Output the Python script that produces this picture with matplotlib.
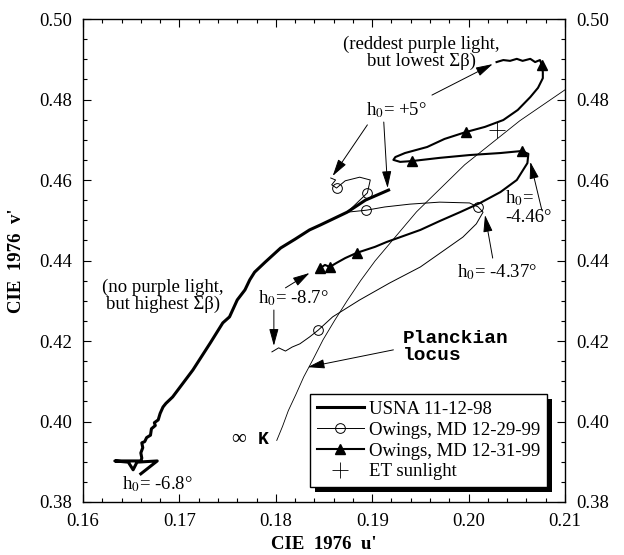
import matplotlib.pyplot as plt
from matplotlib.patches import Rectangle
from matplotlib.ticker import MultipleLocator, FormatStrFormatter

plt.rcParams['font.family'] = ['Liberation Serif', 'DejaVu Serif']
plt.rcParams['mathtext.fontset'] = 'stix'

# USNA 11-12-98 twilight track (u', v')
usna_u = [0.1917, 0.1893, 0.1874, 0.1846, 0.1835, 0.1820, 0.1805, 0.1789, 0.1778,
          0.1773, 0.1768, 0.1760, 0.1752, 0.1745, 0.1732, 0.1714, 0.1693, 0.1686,
          0.1683, 0.1680, 0.1678, 0.1674, 0.1675, 0.1671, 0.1670, 0.1666, 0.1664,
          0.1661, 0.1662, 0.1660, 0.1661, 0.1660, 0.1633, 0.1647, 0.1652, 0.1656,
          0.1677, 0.1660]
usna_v = [0.4575, 0.4550, 0.4520, 0.4488, 0.4476, 0.4453, 0.4431, 0.4396, 0.4371,
          0.4352, 0.4327, 0.4302, 0.4260, 0.4245, 0.4195, 0.4128, 0.4061, 0.4045,
          0.4036, 0.4020, 0.4004, 0.3997, 0.3990, 0.3982, 0.3966, 0.3960, 0.3950,
          0.3947, 0.3935, 0.3922, 0.3909, 0.3902, 0.3902, 0.3899, 0.3880, 0.3899,
          0.3902, 0.3870]

# Owings, MD 12-29-99 (thin line, open circles)
md1229_u = [0.1796, 0.1803, 0.1810, 0.1817, 0.1825, 0.1835, 0.1844, 0.1859, 0.1887,
            0.1918, 0.1950, 0.1975, 0.1994, 0.2008, 0.2015, 0.2010, 0.2001, 0.1970,
            0.1939, 0.1913, 0.1894, 0.1874, 0.1882, 0.1895, 0.1898, 0.1887, 0.1872,
            0.1863, 0.1858, 0.1862, 0.1857]
md1229_v = [0.4173, 0.4183, 0.4175, 0.4185, 0.4193, 0.4210, 0.4227, 0.4260, 0.4302,
            0.4344, 0.4384, 0.4426, 0.4458, 0.4491, 0.4520, 0.4533, 0.4543, 0.4545,
            0.4540, 0.4533, 0.4525, 0.4520, 0.4538, 0.4568, 0.4600, 0.4607, 0.4598,
            0.4580, 0.4588, 0.4600, 0.4605]
md1229_marks = [6, 15, 20, 23, 27]

# Owings, MD 12-31-99 (medium line, filled triangles)
md1231_u = [0.2029, 0.2036, 0.2043, 0.2050, 0.2056, 0.2064, 0.2069, 0.2074, 0.2076,
            0.2077, 0.2077, 0.2072, 0.2064, 0.2051, 0.2036, 0.2017, 0.1997, 0.1975,
            0.1957, 0.1934, 0.1924, 0.1922, 0.1929, 0.1941, 0.1970, 0.2001, 0.2033,
            0.2055, 0.2062, 0.2061, 0.2050, 0.2033, 0.2012, 0.1991, 0.1970, 0.1950,
            0.1929, 0.1915, 0.1903, 0.1884, 0.1872, 0.1863, 0.1856, 0.1851, 0.1846]
md1231_v = [0.4893, 0.4898, 0.4896, 0.4901, 0.4896, 0.4901, 0.4893, 0.4898, 0.4886,
            0.4868, 0.4853, 0.4829, 0.4806, 0.4774, 0.4749, 0.4732, 0.4719, 0.4702,
            0.4682, 0.4667, 0.4657, 0.4650, 0.4645, 0.4647, 0.4655, 0.4662, 0.4667,
            0.4672, 0.4665, 0.4642, 0.4600, 0.4570, 0.4543, 0.4520, 0.4498, 0.4476,
            0.4458, 0.4446, 0.4434, 0.4419, 0.4406, 0.4394, 0.4384, 0.4389, 0.4381]
md1231_marks = [8, 16, 23, 27, 39, 42, 44]

# Planckian locus, infinite temperature up to ~5000 K
planck_u = [0.1801, 0.1807, 0.1813, 0.1821, 0.1829, 0.1839, 0.1849, 0.1861, 0.1874,
            0.1888, 0.1903, 0.1946, 0.1996, 0.2053, 0.2114]
planck_v = [0.3953, 0.3988, 0.4027, 0.4068, 0.4111, 0.4156, 0.4203, 0.4251, 0.4300,
            0.4350, 0.4399, 0.4521, 0.4638, 0.4747, 0.4847]

# extraterrestrial sunlight
sun_u = [0.2029]
sun_v = [0.4724]

fig = plt.figure(figsize=(6.24, 5.55), dpi=100)
ax = fig.add_axes([83 / 624, 53 / 555, 482 / 624, 483 / 555])

ax.plot(usna_u, usna_v, color='black', lw=2.2, solid_joinstyle='round',
        label='USNA 11-12-98')
ax.plot(md1229_u, md1229_v, color='black', lw=0.7, marker='o', markersize=7,
        markerfacecolor='none', markeredgewidth=0.7, markevery=md1229_marks,
        label='Owings, MD 12-29-99')
ax.plot(md1231_u, md1231_v, color='black', lw=1.5, marker='^', markersize=6.5,
        markevery=md1231_marks, solid_joinstyle='round', label='Owings, MD 12-31-99')
ax.plot(sun_u, sun_v, ls='none', marker='+', markersize=11, markeredgewidth=0.6,
        color='black', label='ET sunlight')
ax.plot(planck_u, planck_v, color='black', lw=0.6)

ax.set_xlim(0.16, 0.21)
ax.set_ylim(0.38, 0.50)
ax.xaxis.set_major_locator(MultipleLocator(0.01))
ax.xaxis.set_minor_locator(MultipleLocator(0.002))
ax.yaxis.set_major_locator(MultipleLocator(0.02))
ax.yaxis.set_minor_locator(MultipleLocator(0.005))
ax.xaxis.set_major_formatter(FormatStrFormatter('%.2f'))
ax.yaxis.set_major_formatter(FormatStrFormatter('%.2f'))
ax.tick_params(which='both', direction='in', top=True, right=True,
               labelright=True, labelsize=13.5, width=0.8, pad=8)
ax.tick_params(which='major', length=6)
ax.tick_params(which='minor', length=3)
for sp in ax.spines.values():
    sp.set_linewidth(1.0)

ax.set_xlabel("CIE  1976  u'", fontsize=13.5, fontweight='bold', labelpad=4)
ax.set_ylabel("CIE  1976  v'", fontsize=13.5, fontweight='bold', labelpad=10)

# text labels
fs = 13.5
ax.text(0.1951, 0.4916, '(reddest purple light,\nbut lowest Σβ)', fontsize=fs,
        ha='center', va='center', linespacing=1.0)
ax.text(0.1925, 0.4774, 'h$_0$= +5°', fontsize=fs, ha='center', va='center')
ax.text(0.2038, 0.4533, 'h$_0$=\n-4.46°', fontsize=fs, ha='left', va='center',
        linespacing=1.05)
ax.text(0.2029, 0.4371, 'h$_0$= -4.37°', fontsize=fs, ha='center', va='center')
ax.text(0.1683, 0.4312, '(no purple light,\nbut highest Σβ)', fontsize=fs,
        ha='center', va='center', linespacing=1.0)
ax.text(0.1818, 0.4307, 'h$_0$= -8.7°', fontsize=fs, ha='center', va='center')
ax.text(0.1677, 0.3845, 'h$_0$= -6.8°', fontsize=fs, ha='center', va='center')
ax.text(0.1932, 0.4185, 'Planckian\nlocus', fontsize=14, family='Liberation Mono',
        fontweight='bold', ha='left', va='center', linespacing=1.0)
ax.text(0.1761, 0.3955, '∞', fontsize=15, ha='center', va='center')
ax.text(0.1787, 0.3955, 'K', fontsize=13, family='Liberation Mono',
        fontweight='bold', ha='center', va='center')

# arrows: (tail, head)
arrows = [
    ((0.1962, 0.4811), (0.2025, 0.4888)),
    ((0.1895, 0.4737), (0.1859, 0.4610)),
    ((0.1912, 0.4744), (0.1916, 0.4580)),
    ((0.2076, 0.4525), (0.2064, 0.4645)),
    ((0.2025, 0.4406), (0.2017, 0.4513)),
    ((0.1810, 0.4332), (0.1835, 0.4369)),
    ((0.1798, 0.4277), (0.1798, 0.4188)),
    ((0.1922, 0.4178), (0.1833, 0.4135)),
]
for tail, head in arrows:
    ax.annotate('', xy=head, xytext=tail,
                arrowprops=dict(arrowstyle='-|>,head_length=0.8,head_width=0.22',
                                lw=0.7, color='black', shrinkA=0, shrinkB=0,
                                mutation_scale=13))

leg = ax.legend(loc='lower right', bbox_to_anchor=(0.9627, 0.031), borderaxespad=0,
                fontsize=13.5, frameon=True, fancybox=False, edgecolor='black',
                framealpha=1, handlelength=2.5, handletextpad=0.3,
                labelspacing=0.2, borderpad=0.35)
leg.get_frame().set_linewidth(1.0)

# solid drop shadow behind the legend box
fig.canvas.draw()
bb = leg.get_window_extent().transformed(ax.transAxes.inverted())
dx, dy = 5 / 482, 5 / 483
ax.add_patch(Rectangle((bb.x0 + dx, bb.y0 - dy), bb.width, bb.height,
                       transform=ax.transAxes, facecolor='black', edgecolor='none',
                       clip_on=False, zorder=4.5))
leg.set_zorder(5)

fig.savefig('out.png', dpi=100)
